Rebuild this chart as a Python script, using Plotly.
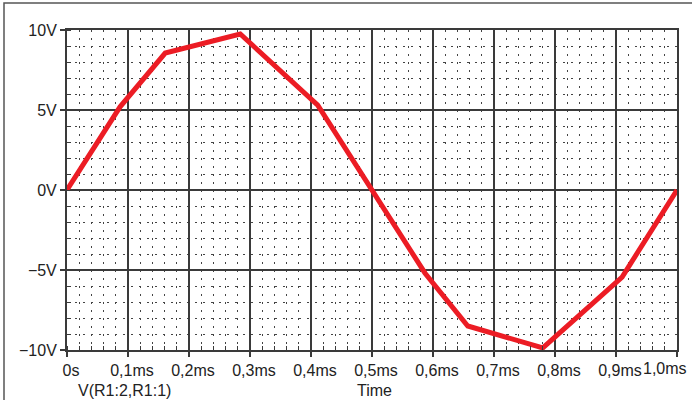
import plotly.graph_objects as go

# Data (time in ms, voltage in V)
time_ms = [0.0, 0.087, 0.161, 0.284, 0.411, 0.5, 0.587, 0.657, 0.780, 0.910, 1.0]
voltage = [0.0, 5.2, 8.56, 9.75, 5.31, 0.0, -5.2, -8.5, -9.87, -5.44, 0.0]

x_tickvals = [0.0, 0.1, 0.2, 0.3, 0.4, 0.5, 0.6, 0.7, 0.8, 0.9, 1.0]
x_ticktext = ["0s", "0,1ms", "0,2ms", "0,3ms", "0,4ms", "0,5ms", "0,6ms",
              "0,7ms", "0,8ms", "0,9ms", "1,0ms"]
y_tickvals = [-10, -5, 0, 5, 10]
y_ticktext = ["\u221210V", "\u22125V", "0V", "5V", "10V"]

trace_name = "V(R1:2,R1:1)"
x_label = "Time"

FONT = "Liberation Sans, Arial, sans-serif"
FS = 16
AX = "#3a3a3a"
GRIDMINOR = "#444444"
TXT = "#222222"

fig = go.Figure()
fig.add_trace(go.Scatter(
    x=time_ms, y=voltage, mode="lines",
    line=dict(color="#ec1c24", width=5),
    name=trace_name, showlegend=False, cliponaxis=False,
))

common_axis = dict(
    showline=True, linecolor=AX, linewidth=2, mirror=True,
    showgrid=True, gridcolor=AX, gridwidth=1.5,
    zeroline=False,
    ticks="outside", ticklen=5, tickwidth=1.5, tickcolor=AX,
    tickfont=dict(family=FONT, size=FS, color=TXT),
    ticklabeloverflow="allow", automargin=False,
)

# the last label is drawn right-aligned to stay inside the frame (as in the reference)
x_ticktext_axis = x_ticktext[:-1] + [""]

fig.update_xaxes(
    range=[0, 1.0], tickvals=x_tickvals, ticktext=x_ticktext_axis,
    ticklabelshift=4,
    minor=dict(dtick=0.02, showgrid=True, gridcolor=GRIDMINOR, gridwidth=1,
               griddash="2px,6px", ticks="inside", ticklen=4, tickcolor=AX, tickwidth=1),
    **common_axis,
)
fig.update_yaxes(
    range=[-10, 10], tickvals=y_tickvals, ticktext=y_ticktext,
    minor=dict(dtick=1, showgrid=True, gridcolor=GRIDMINOR, gridwidth=1,
               griddash="2px,6px", ticks="inside", ticklen=4, tickcolor=AX, tickwidth=1),
    **common_axis,
)

# outer frame
L, T, W, H = 67, 30, 610, 320
def px_x(p):
    return (p - L) / W
def px_y(p):
    return 1 - (p - T) / H

fig.add_shape(type="rect", xref="paper", yref="paper",
              x0=px_x(4), x1=px_x(705), y0=px_y(420), y1=px_y(3),
              line=dict(color="#555555", width=1.5), fillcolor="rgba(0,0,0,0)", layer="below")

fig.add_annotation(text=x_ticktext[-1], xref="paper", yref="paper",
                   x=px_x(689), y=px_y(368.5), xanchor="right", yanchor="middle",
                   showarrow=False, font=dict(family=FONT, size=FS, color=TXT))
fig.add_annotation(text=trace_name, xref="paper", yref="paper",
                   x=px_x(76), y=px_y(390), xanchor="left", yanchor="middle",
                   showarrow=False, font=dict(family=FONT, size=FS, color=TXT))
fig.add_annotation(text=x_label, xref="paper", yref="paper",
                   x=px_x(374), y=px_y(390), xanchor="center", yanchor="middle",
                   showarrow=False, font=dict(family=FONT, size=FS, color=TXT))

fig.update_layout(
    width=692, height=400,
    margin=dict(l=L, r=692 - L - W, t=T, b=400 - T - H),
    paper_bgcolor="white", plot_bgcolor="white",
)

fig.write_html("out.html")
